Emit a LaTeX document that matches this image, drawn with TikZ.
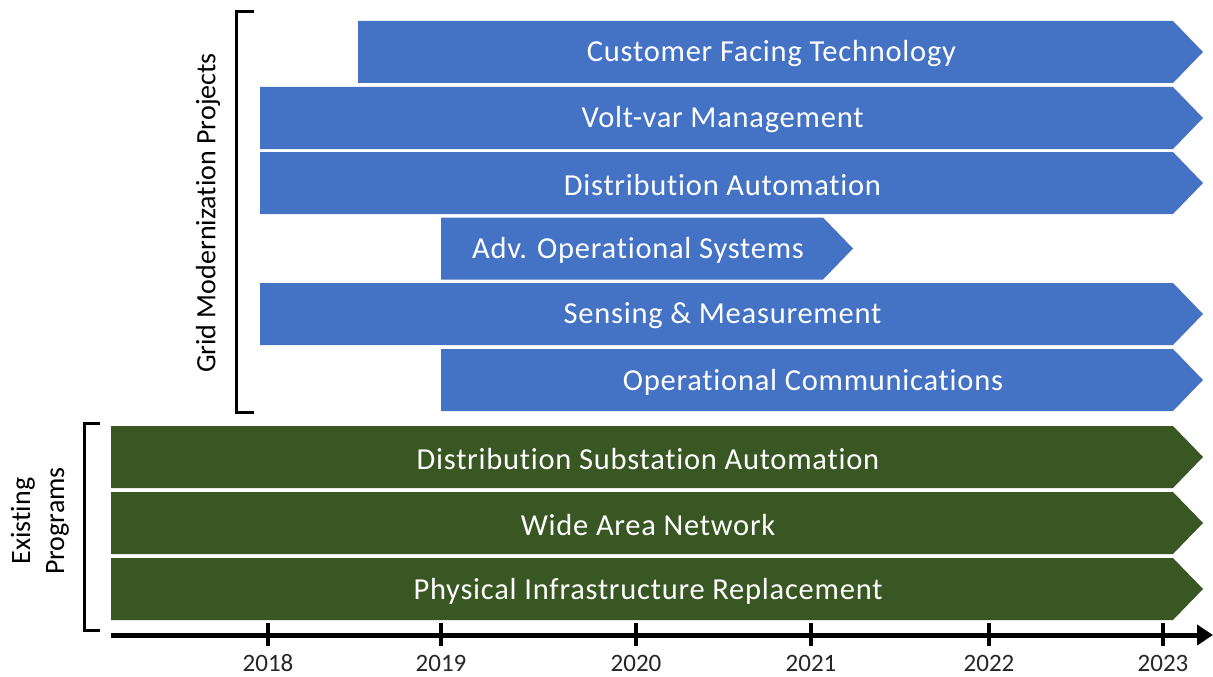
\documentclass[tikz,border=0pt]{standalone}
\usepackage{fontspec}
\setmainfont{Carlito}[Ligatures=NoCommon]
\newfontfamily\barfont{Carlito}[LetterSpace=2.5,Ligatures=NoCommon]
\usetikzlibrary{arrows.meta}
\definecolor{gmblue}{HTML}{4472C4}
\definecolor{epgreen}{HTML}{385723}
\tikzset{
  bartext/.style={text=white, font=\barfont\fontsize{30.5}{34}\selectfont, inner sep=0pt, anchor=center},
  yearlbl/.style={text=black!85, font=\fontsize{25}{28}\selectfont, inner sep=0pt},
  sidelbl/.style={text=black, font=\fontsize{28}{34}\selectfont, inner sep=0pt, align=center, rotate=90},
  brack/.style={line width=3pt, black},
  axisline/.style={line width=5pt, black, -{Triangle[length=16pt,width=20pt]}},
  tickline/.style={line width=4pt, black}
}
% #1 name, #2 x0, #3 top, #4 tip x, #5 colour, #6 text
\newcommand\progbar[6]{%
  \fill[#5] (#2,#3) -- (#4-30,#3) -- (#4,#3+31) -- (#4-30,#3+62) -- (#2,#3+62) -- cycle;
  \node[bartext] (#1) at ({(#2+#4-30)/2+6},#3+33) {#6};
}
\begin{document}
\begin{tikzpicture}[x=1pt,y=-1pt]
\useasboundingbox (0,0) rectangle (1213,677);
% blue bars
\progbar{cft}{358}{21}{1203}{gmblue}{Customer Facing Technology}
\progbar{vvm}{260}{87}{1203}{gmblue}{Volt-var Management}
\progbar{da}{260}{152}{1203}{gmblue}{Distribution Automation}
\progbar{aos}{441}{217.5}{853}{gmblue}{Adv. Operational Systems}
\progbar{sm}{260}{283}{1203}{gmblue}{Sensing \& Measurement}
\progbar{oc}{441}{349}{1203}{gmblue}{Operational Communications}
% green bars
\progbar{dsa}{111}{426}{1203}{epgreen}{Distribution Substation Automation}
\progbar{wan}{111}{492}{1203}{epgreen}{Wide Area Network}
\progbar{pir}{111}{558}{1203}{epgreen}{Physical Infrastructure Replacement}
% brackets
\draw[brack] (254,12) -- (236,12) -- (236,412) -- (254,412);
\draw[brack] (100,423) -- (84,423) -- (84,630) -- (100,630);
\node[sidelbl] (gmp) at (208,213) {Grid Modernization Projects};
\node[sidelbl] (exp) at (40,521) {Existing\\Programs};
% axis
\coordinate (axs) at (111,635);
\coordinate (axe) at (1213,635);
\draw[axisline] (axs) -- (axe);
\foreach \yr/\xx in {2018/268,2019/441,2020/636,2021/811,2022/989,2023/1163}{
  \draw[tickline] (\xx,623) -- (\xx,646);
  \node[yearlbl] (y\yr) at (\xx,663) {\yr};
}
\end{tikzpicture}
\end{document}
